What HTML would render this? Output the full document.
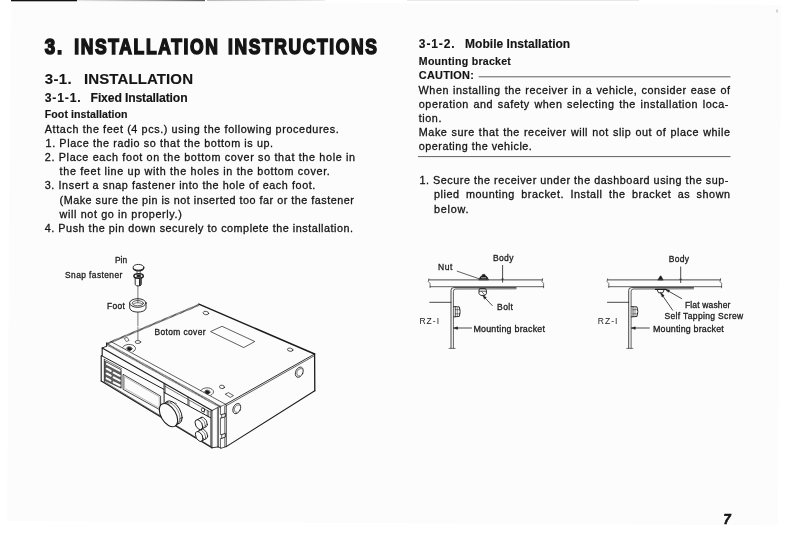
<!DOCTYPE html>
<html lang="en"><head><meta charset="utf-8"><title>3. Installation Instructions</title>
<style>
html,body{margin:0;padding:0;background:#fff}
body{width:793px;height:539px;overflow:hidden}
svg{display:block}
text{white-space:pre}
#text text{stroke:#151515;stroke-width:.3px}
#text text[font-weight="700"]{stroke-width:.15px}
#lbl1 text,#lbl2 text{stroke:#1c1c1c;stroke-width:.3px}
svg{filter:grayscale(1)}
</style></head><body>
<svg width="793" height="539" viewBox="0 0 793 539" font-family='"Liberation Sans", sans-serif' fill="#151515">
<defs><linearGradient id="tb" x1="0" x2="1" y1="0" y2="0"><stop offset="0" stop-color="#e6e6e6"/><stop offset="0.6" stop-color="#a0a0a0"/><stop offset="1" stop-color="#5a5a5a"/></linearGradient>
<linearGradient id="tc" x1="0" x2="1" y1="0" y2="0"><stop offset="0" stop-color="#b8b8b8"/><stop offset="1" stop-color="#ececec"/></linearGradient></defs>
<polygon points="11,1.2 781.2,4.8 778,525.4 7,521" fill="#fcfcfc"/>
<rect x="11" y="0" width="66" height="1.3" fill="#111"/>
<rect x="77" y="0" width="128" height="1.2" fill="url(#tb)"/>
<rect x="207" y="0" width="118" height="1.1" fill="url(#tc)"/>
<rect x="407" y="0" width="232" height="1" fill="#e8e8e8"/>
<rect x="776" y="9.5" width="2" height="3" fill="#d4d4d4"/><!-- speck -->
<g id="text">
<text x="44.80" y="54.10" font-size="21.8" font-weight="700" textLength="19.0" lengthAdjust="spacingAndGlyphs" style="stroke-width:1.6px;letter-spacing:2px">3.</text>
<text x="74.30" y="54.10" font-size="21.8" font-weight="700" textLength="145.1" lengthAdjust="spacingAndGlyphs" style="stroke-width:1.6px;letter-spacing:2px">INSTALLATION</text>
<text x="228.10" y="54.10" font-size="21.8" font-weight="700" textLength="150.4" lengthAdjust="spacingAndGlyphs" style="stroke-width:1.6px;letter-spacing:2px">INSTRUCTIONS</text>
<text x="44.80" y="84.10" font-size="15.0" font-weight="700" style="letter-spacing:0.314px">3-1.</text>
<text x="83.90" y="84.10" font-size="15.0" font-weight="700" style="letter-spacing:0.121px">INSTALLATION</text>
<text x="44.80" y="101.70" font-size="12.2" font-weight="700" style="letter-spacing:0.791px">3-1-1.</text>
<text x="90.60" y="101.70" font-size="12.2" font-weight="700" style="letter-spacing:-0.151px">Fixed Installation</text>
<text x="44.80" y="118.40" font-size="10.6" font-weight="700" style="letter-spacing:0.062px">Foot installation</text>
<text x="44.80" y="132.70" font-size="10.8" style="letter-spacing:0.608px">Attach the feet (4 pcs.) using the following procedures.</text>
<text x="45.60" y="146.88" font-size="10.8" style="letter-spacing:0.587px">1. Place the radio so that the bottom is up.</text>
<text x="44.80" y="161.06" font-size="10.8" style="letter-spacing:0.652px">2. Place each foot on the bottom cover so that the hole in</text>
<text x="59.60" y="175.24" font-size="10.8" style="letter-spacing:0.651px">the feet line up with the holes in the bottom cover.</text>
<text x="44.80" y="189.42" font-size="10.8" style="letter-spacing:0.573px">3. Insert a snap fastener into the hole of each foot.</text>
<text x="59.60" y="203.60" font-size="10.8" style="letter-spacing:0.497px">(Make sure the pin is not inserted too far or the fastener</text>
<text x="59.60" y="217.78" font-size="10.8" style="letter-spacing:0.624px">will not go in properly.)</text>
<text x="44.80" y="231.96" font-size="10.8" style="letter-spacing:0.524px">4. Push the pin down securely to complete the installation.</text>
<text x="418.80" y="48.40" font-size="12.0" font-weight="700" style="letter-spacing:0.908px">3-1-2.</text>
<text x="465.10" y="48.40" font-size="12.0" font-weight="700" style="letter-spacing:0.024px">Mobile Installation</text>
<text x="418.80" y="64.90" font-size="10.6" font-weight="700" style="letter-spacing:0.254px">Mounting bracket</text>
<text x="418.80" y="79.20" font-size="10.9" font-weight="700" style="letter-spacing:0.250px">CAUTION:</text>
<text x="418.60" y="93.60" font-size="10.8" style="letter-spacing:0.550px;word-spacing:0.514px">When installing the receiver in a vehicle, consider ease of</text>
<text x="418.80" y="107.78" font-size="10.8" style="letter-spacing:0.550px;word-spacing:1.078px">operation and safety when selecting the installation loca-</text>
<text x="418.80" y="121.96" font-size="10.8" style="letter-spacing:0.550px">tion.</text>
<text x="418.80" y="136.14" font-size="10.8" style="letter-spacing:0.550px;word-spacing:0.572px">Make sure that the receiver will not slip out of place while</text>
<text x="418.80" y="150.32" font-size="10.8" style="letter-spacing:0.493px">operating the vehicle.</text>
<text x="419.40" y="184.30" font-size="10.8" style="letter-spacing:0.550px;word-spacing:-0.101px">1. Secure the receiver under the dashboard using the sup-</text>
<text x="434.00" y="198.48" font-size="10.8" style="letter-spacing:0.550px;word-spacing:2.868px">plied mounting bracket. Install the bracket as shown</text>
<text x="434.00" y="212.66" font-size="10.8" style="letter-spacing:0.775px">below.</text>
<text x="723.60" y="524.00" font-size="14.6" font-weight="700" textLength="7.2" lengthAdjust="spacingAndGlyphs" font-style="italic" style="stroke-width:.7px">7</text>
</g>
<g id="rules" stroke="#3a3a3a" stroke-width="0.8" fill="none"><!-- #151515 -->
<line x1="478.6" y1="76.8" x2="730.5" y2="76.8"/>
<line x1="418" y1="156.6" x2="730.5" y2="156.6"/>
</g>
<g id="radio" fill="none" stroke="#1c1c1c" stroke-width="0.85" stroke-linecap="round" stroke-linejoin="round">
<path d="M106.8 343.8 L198.9 304.9" stroke-width="2.0" stroke="#333" stroke-dasharray="0.8 0.4" stroke-linecap="butt"/>
<path d="M198.9 304.1 L314.6 354.0" stroke-width="1.5"/>
<path d="M314.6 354.0 L225.6 404.3" stroke-width="0.9"/>
<path d="M314.6 355.6 L226.1 405.8" stroke-width="0.7"/>
<path d="M314.6 354.0 L314.8 390.7" stroke-width="1.3"/>
<path d="M314.8 390.7 L226.2 446.6" stroke-width="1.1"/>
<path d="M226.2 405.0 L226.2 446.6" stroke-width="0.9"/>
<path d="M111.0 341.6 L225.6 404.3" stroke-width="0.7"/>
<path d="M106.8 344.1 L221.0 407.1" stroke-width="2.3" stroke="#3a3a3a" stroke-dasharray="0.75 0.45" stroke-linecap="butt"/>
<path d="M106.6 342.9 L106.6 346.2" stroke-width="1.0"/>
<path d="M106.6 346.2 L102.2 348.0" stroke-width="0.9"/>
<path d="M102.2 348.0 L211.9 410.6" stroke-width="1.1"/>
<path d="M102.2 348.0 L102.2 355.4 L101.2 355.7 L101.2 381.0" stroke-width="1.1"/>
<path d="M101.2 381.0 L211.9 447.8" stroke-width="1.1"/>
<path d="M104.2 381.6 L210.4 446.2" stroke-width="0.6"/>
<path d="M211.9 410.6 L211.9 447.8" stroke-width="1.0"/>
<path d="M101.4 355.6 L164.0 389.4" stroke-width="1.0"/>
<path d="M104.3 359.3 L104.3 382.0" stroke-width="0.7"/>
<path d="M104.3 359.3 L121.5 368.6" stroke-width="0.6"/>
<path d="M164.1 383.4 L164.1 402.6" stroke-width="1.0"/>
<path d="M165.3 384.6 L165.3 393.0" stroke-width="0.5"/>
<path d="M188.0 397.4 L188.0 404.8" stroke-width="0.8"/>
<path d="M165.3 386.4 L209.3 411.6" stroke-width="0.6"/>
<path d="M164.1 392.4 L210.6 417.8" stroke-width="1.0"/>
<path d="M189.2 400.2 L189.2 405.6" stroke-width="0.5"/>
<path d="M210.6 411.0 L210.6 446.6" stroke-width="0.6"/>
<path d="M207.3 410.6 L207.3 416.0" stroke-width="0.6"/>
<path d="M208.7 411.2 L208.7 416.8" stroke-width="0.6"/>
<path d="M123.4 374.5 L160.6 396.1 L160.6 410.2 L123.4 389.5 Z" stroke-width="0.8"/>
<path d="M124.8 376.8 L159.3 396.9 L159.3 408.0 L124.8 388.4 Z" stroke-width="0.4" stroke="#555"/>
<path d="M104.9 361.2 L121.2 369.8 L121.2 388.2 L104.9 380.6 Z" stroke-width="0.6" fill="#5c5c5c"/>
<path d="M106.9 363.9 L119.6 370.7" stroke-width="2.0" stroke="#fcfcfc"/>
<path d="M106.7 368.7 L110.7 370.9" stroke-width="2.0" stroke="#fcfcfc"/>
<path d="M113.6 372.6 L119.8 375.8" stroke-width="2.0" stroke="#fcfcfc"/>
<path d="M106.7 373.5 L110.7 375.7" stroke-width="2.0" stroke="#fcfcfc"/>
<path d="M113.6 377.4 L119.8 380.6" stroke-width="2.0" stroke="#fcfcfc"/>
<path d="M106.6 378.3 L110.5 380.5" stroke-width="2.0" stroke="#fcfcfc"/>
<path d="M113.6 382.3 L119.8 385.5" stroke-width="2.0" stroke="#fcfcfc"/>
<path d="M211.9 410.6 L217.4 407.7" stroke-width="0.8"/>
<path d="M217.4 407.7 L225.6 404.3" stroke-width="0.6"/>
<path d="M218.3 408.0 L218.3 446.9" stroke-width="0.8"/>
<path d="M217.4 408.4 L217.4 446.9" stroke-width="0.5"/>
<path d="M211.9 447.8 L218.3 446.9" stroke-width="0.9"/>
<path d="M218.3 446.9 L221.0 448.2" stroke-width="0.8"/>
<path d="M221.0 448.2 L226.2 446.6" stroke-width="0.8"/>
<path d="M220.4 407.4 L220.4 414.6 L221.7 414.6 L221.7 417.9 L220.4 417.9 L220.4 434.6 L221.7 434.6 L221.7 438.4 L220.4 438.4 L220.4 447.8" stroke-width="0.7"/>
<path d="M221.7 414.6 L225.3 413.4 L225.3 416.8 L221.7 417.9" stroke-width="0.9"/>
<path d="M221.7 434.6 L225.3 433.4 L225.3 437.0 L221.7 438.4" stroke-width="0.9"/>
<path d="M224.6 406.2 L224.6 413.4" stroke-width="0.6"/>
<path d="M224.6 417.2 L224.6 433.4" stroke-width="0.5"/>
<path d="M224.6 437.4 L224.6 447.0" stroke-width="0.5"/>
<circle r="10.4" transform="matrix(0.88 0.50 0 1 173.0 412.5)" stroke-width="1.0" fill="#fcfcfc" vector-effect="non-scaling-stroke"/>
<path d="M163.0 405.2 L167.4 402.4 M174.6 425.9 L179.0 423.2" stroke-width="0.9"/>
<circle r="9.7" transform="matrix(0.88 0.50 0 1 171.6 413.3)" stroke-width="0.5" fill="none" vector-effect="non-scaling-stroke"/>
<circle r="10.4" transform="matrix(0.88 0.50 0 1 168.5 415.1)" stroke-width="1.1" fill="#fcfcfc" vector-effect="non-scaling-stroke"/>
<path d="M167.6 402.9 L169.0 404.2 M170.2 402.2 L171.6 403.4 M172.8 402.0 L174.0 403.2 M175.4 402.6 L176.4 403.6 M178.8 421.6 L181.6 420.2 M179.4 419.2 L182.2 417.8" stroke-width="0.5"/>
<circle r="4.5" transform="matrix(0.85 0.48 0 1 203.5 422.2)" stroke-width="0.9" fill="#fcfcfc" vector-effect="non-scaling-stroke"/>
<circle r="4.5" transform="matrix(0.85 0.48 0 1 201.5 423.3)" stroke-width="0.5" fill="#fcfcfc" vector-effect="non-scaling-stroke"/>
<circle r="4.5" transform="matrix(0.85 0.48 0 1 198.9 424.7)" stroke-width="1.0" fill="#fcfcfc" vector-effect="non-scaling-stroke"/>
<path d="M197.2 419.8 L201.8 417.3 M200.6 429.6 L205.2 427.1" stroke-width="0.8"/>
<circle r="4.5" transform="matrix(0.85 0.48 0 1 203.8 434.0)" stroke-width="0.9" fill="#fcfcfc" vector-effect="non-scaling-stroke"/>
<circle r="4.5" transform="matrix(0.85 0.48 0 1 201.8 435.1)" stroke-width="0.5" fill="#fcfcfc" vector-effect="non-scaling-stroke"/>
<circle r="4.5" transform="matrix(0.85 0.48 0 1 199.2 436.5)" stroke-width="1.0" fill="#fcfcfc" vector-effect="non-scaling-stroke"/>
<path d="M197.5 431.6 L202.1 429.1 M200.9 441.4 L205.5 438.9" stroke-width="0.8"/>
<ellipse cx="203.0" cy="409.8" rx="1.7" ry="1.9" stroke-width="0.8"/>
<path d="M204.6 410.4 C204.8 412.2 204.0 413.2 202.8 413.6" stroke-width="0.7"/>
<ellipse cx="137.9" cy="342.0" rx="2.8" ry="1.5" stroke-width="0.7"/>
<ellipse cx="205.9" cy="313.0" rx="2.8" ry="1.7" transform="rotate(10 205.9 313.0)" stroke-width="0.7"/>
<ellipse cx="290.2" cy="349.7" rx="2.8" ry="1.6" transform="rotate(10 290.2 349.7)" stroke-width="0.7"/>
<ellipse cx="222.0" cy="386.9" rx="2.5" ry="1.7" transform="rotate(10 222.0 386.9)" stroke-width="0.7"/>
<path d="M124.6 338.4 L127.1 337.3 L129.1 340.4 L126.7 341.4 Z" stroke-width="0.6"/>
<path d="M225.5 394.0 L228.5 392.6 L233.5 395.6 L230.6 397.2 Z" stroke-width="0.7"/>
<path d="M210.9 331.4 L222.0 326.3 L254.8 341.5 L244.1 347.4 Z" stroke-width="0.7"/>
<path d="M122.6 347.4 C124.8 343.6 132.6 343.2 135.2 347.2 C136.2 349.0 134.8 351.0 132.8 351.8" stroke-width="0.7"/>
<ellipse cx="129.4" cy="348.9" rx="2.2" ry="1.6" transform="rotate(15 129.4 348.9)" stroke-width="0.6" fill="#1c1c1c"/>
<path d="M126.0 348.8 C126.6 346.0 131.6 345.8 132.6 348.8" stroke-width="0.6"/>
<path d="M200.6 390.8 C202.8 387.0 210.6 386.6 213.2 390.6 C214.2 392.4 212.8 394.4 210.8 395.2" stroke-width="0.7"/>
<ellipse cx="207.4" cy="392.3" rx="2.2" ry="1.6" transform="rotate(15 207.4 392.3)" stroke-width="0.6" fill="#1c1c1c"/>
<path d="M204.0 392.2 C204.6 389.4 209.6 389.2 210.6 392.2" stroke-width="0.6"/>
<ellipse cx="299.3" cy="372.2" rx="3.6" ry="5.4" transform="rotate(25 299.3 372.2)" stroke-width="0.8"/>
<path d="M301.9 368.8 C299.1 367.6 296.3 371.2 296.9 374.0 C297.3 375.8 298.7 376.4 299.7 375.8" stroke-width="0.6"/>
<ellipse cx="236.8" cy="408.6" rx="3.6" ry="5.4" transform="rotate(25 236.8 408.6)" stroke-width="0.8"/>
<path d="M239.4 405.2 C236.6 404.0 233.8 407.6 234.4 410.4 C234.8 412.2 236.2 412.8 237.2 412.2" stroke-width="0.6"/>
</g>
<g id="foot" fill="none" stroke="#1c1c1c" stroke-width="0.8" stroke-linecap="round">
<path d="M137.9 286.0 L137.9 300.5" stroke-width="0.6"/>
<path d="M137.9 311.5 L137.9 326.0" stroke-width="0.6"/>
<path d="M137.9 327.5 L137.9 329.0" stroke-width="0.6"/>
<path d="M137.9 331.0 L137.9 340.0" stroke-width="0.6"/>
<ellipse cx="138.5" cy="267.3" rx="5.4" ry="2.9" stroke-width="0.9"/>
<path d="M133.2 268.2 C133.6 271.6 143.2 271.8 143.8 268.2" stroke-width="1.1"/>
<path d="M137.0 270.8 L137.0 274.0" stroke-width="0.7"/>
<path d="M140.2 270.8 L140.2 274.0" stroke-width="0.7"/>
<ellipse cx="138.6" cy="276.0" rx="4.7" ry="2.2" stroke-width="1.5"/>
<ellipse cx="138.6" cy="276.0" rx="2.0" ry="0.9" stroke-width="0.8" fill="#1c1c1c"/>
<path d="M135.2 278.2 L135.2 284.6 C136 286.4 140.5 286.4 141.3 284.6 L141.3 278.2" stroke-width="0.9"/>
<path d="M139.9 279.6 L139.9 285.2" stroke-width="1.7"/>
<path d="M129.7 303.0 L129.7 308.2 C130.5 313.4 145.2 313.4 146.0 308.2 L146.0 303.0" stroke-width="0.9" fill="#fcfcfc"/>
<ellipse cx="137.8" cy="303.0" rx="8.2" ry="4.3" stroke-width="0.9" fill="#fcfcfc"/>
<ellipse cx="137.8" cy="303.2" rx="5.6" ry="2.6" stroke-width="0.7"/>
<path d="M133.2 304.2 C134.5 302.2 141.0 302.2 142.4 304.2" stroke-width="0.6"/>
<path d="M137.9 298.8 L137.9 302.5" stroke-width="0.6"/>
</g>
<g id="lbl1" font-size="8.4" fill="#1c1c1c">
<text x="114.9" y="263.2" textLength="12.3">Pin</text>
<text x="65.1" y="278.3" textLength="57.2">Snap fastener</text>
<text x="106.9" y="308.6" textLength="18">Foot</text>
<text x="154.5" y="335.1" textLength="51.0">Botom cover</text>
</g>
<g fill="none" stroke="#1c1c1c" stroke-width="0.8" stroke-linecap="round" stroke-linejoin="round">
<path d="M428.9 279.9 L542.6 279.9" stroke-width="0.8"/>
<path d="M430.1 286.7 L543.6 286.7" stroke-width="0.7"/>
<path d="M428.9 278.8 L428.3 281.5 L430.1 283.5 L430.1 287.6" stroke-width="0.6"/>
<path d="M542.6 278.6 L542.0 281.5 L543.6 283.5 L543.6 287.8" stroke-width="0.6"/>
<path d="M451.0 348.2 L451.0 290.3 Q451.0 287.6 453.8 287.6 L516.1 287.6" stroke-width="0.8"/>
<path d="M453.4 348.2 L453.4 291.3 Q453.4 289.2 455.6 289.0 L516.1 288.8" stroke-width="0.7"/>
<path d="M449.0 348.4 L455.2 348.4" stroke-width="0.6"/>
<path d="M429.8 302.3 L451.0 302.3" stroke-width="0.8"/>
<path d="M453.6 306.6 L459.3 306.9 Q461.0 311.6 459.3 316.4 L453.6 316.9" stroke-width="0.9"/>
<path d="M455.3 306.8 L455.3 316.7" stroke-width="0.7"/>
<path d="M457.3 308.0 L457.3 315.6" stroke-width="0.5"/>
<path d="M455.3 309.7 L460.0 309.7" stroke-width="0.5"/>
<path d="M455.3 313.8 L460.0 313.8" stroke-width="0.5"/>
<path d="M454.0 328.0 L471.6 328.0" stroke-width="0.8"/>
<path d="M453.8 328.0 L457.6 326.8 L457.6 329.2 Z" fill="#1c1c1c" stroke-width="0.4"/>
</g>
<g fill="none" stroke="#1c1c1c" stroke-width="0.8" stroke-linecap="round" stroke-linejoin="round">
<path d="M607.6 279.9 L720.6 279.9" stroke-width="0.8"/>
<path d="M608.8 286.7 L721.6 286.7" stroke-width="0.7"/>
<path d="M607.6 278.8 L607.0 281.5 L608.8 283.5 L608.8 287.6" stroke-width="0.6"/>
<path d="M720.6 278.6 L720.0 281.5 L721.6 283.5 L721.6 287.8" stroke-width="0.6"/>
<path d="M628.7 348.2 L628.7 290.3 Q628.7 287.6 631.5 287.6 L693.5 287.6" stroke-width="0.8"/>
<path d="M631.1 348.2 L631.1 291.3 Q631.1 289.2 633.3 289.0 L693.5 288.8" stroke-width="0.7"/>
<path d="M626.7 348.4 L632.9 348.4" stroke-width="0.6"/>
<path d="M607.5 302.3 L628.7 302.3" stroke-width="0.8"/>
<path d="M631.3 306.6 L637.0 306.9 Q638.7 311.6 637.0 316.4 L631.3 316.9" stroke-width="0.9"/>
<path d="M633.0 306.8 L633.0 316.7" stroke-width="0.7"/>
<path d="M635.0 308.0 L635.0 315.6" stroke-width="0.5"/>
<path d="M633.0 309.7 L637.7 309.7" stroke-width="0.5"/>
<path d="M633.0 313.8 L637.7 313.8" stroke-width="0.5"/>
<path d="M631.7 328.0 L649.3 328.0" stroke-width="0.8"/>
<path d="M631.5 328.0 L635.3 326.8 L635.3 329.2 Z" fill="#1c1c1c" stroke-width="0.4"/>
</g>
<g fill="none" stroke="#1c1c1c" stroke-width="0.8" stroke-linecap="round" stroke-linejoin="round">
<path d="M478.9 279.6 L480.4 276.8 L482.0 275.8 L482.6 274.4 L484.8 274.4 L485.4 275.8 L487.0 276.8 L488.4 279.6 Z" fill="#1c1c1c" stroke-width="0.6"/>
<path d="M481.6 277.8 L485.8 277.8" stroke="#fcfcfc" stroke-width="0.7"/>
<path d="M457.2 271.2 L478.6 278.6" stroke-width="0.7"/>
<path d="M502.6 265.4 L502.6 282.2" stroke-width="0.8"/>
<path d="M501.6 279.0 L503.6 279.0" stroke-width="0.6"/>
<path d="M480.0 288.6 L485.6 288.6 L486.4 290.4 L486.4 293.6 L485.0 295.4 L480.6 295.4 L479.0 293.6 L479.0 290.4 Z" stroke-width="0.9"/>
<path d="M479.2 291.2 L486.2 291.2" stroke-width="0.7"/>
<path d="M481.6 291.4 L484.6 294.8" stroke-width="0.6"/>
<path d="M483.6 296.4 L492.2 305.5" stroke-width="0.8"/>
<path d="M482.9 295.6 L486.4 297.4 L484.6 299.0 Z" fill="#1c1c1c" stroke-width="0.4"/>
<path d="M658.0 279.8 L660.0 276.4 L660.9 275.8 L663.0 279.8 Z" fill="#1c1c1c" stroke-width="0.6"/>
<path d="M680.7 267.0 L680.7 282.6" stroke-width="0.8"/>
<path d="M679.7 279.2 L681.7 279.2" stroke-width="0.6"/>
<path d="M655.4 289.3 L665.8 289.3" stroke-width="1.3"/>
<path d="M657.2 290.0 L658.6 292.8 L662.8 292.8 L664.0 290.0" stroke-width="0.9"/>
<path d="M666.2 289.8 L681.6 298.6" stroke-width="0.8"/>
<path d="M665.4 289.2 L669.6 290.2 L668.4 292.2 Z" fill="#1c1c1c" stroke-width="0.4"/>
<path d="M661.0 293.4 L672.7 310.2" stroke-width="0.8"/>
<path d="M660.6 292.8 L664.2 295.6 L662.2 296.9 Z" fill="#1c1c1c" stroke-width="0.4"/>
</g>
<g id="lbl2" font-size="8.5" fill="#1c1c1c">
<text x="438.1" y="270.2" textLength="14.2">Nut</text>
<text x="493.0" y="261.1" textLength="20.4">Body</text>
<text x="497.1" y="309.5" textLength="15.8">Bolt</text>
<text x="419.4" y="323.8" textLength="19.6" style="stroke:none">RZ-I</text>
<text x="473.4" y="331.6" textLength="71.6" font-size="8.9">Mounting bracket</text>
<text x="668.8" y="262.3" textLength="20.3">Body</text>
<text x="685.0" y="307.6" textLength="45.4">Flat washer</text>
<text x="664.5" y="318.5" textLength="78.6">Self Tapping Screw</text>
<text x="597.8" y="323.8" textLength="19.6" style="stroke:none">RZ-I</text>
<text x="653.0" y="331.6" textLength="70.8" font-size="8.9">Mounting bracket</text>
</g>
</svg>
</body></html>
